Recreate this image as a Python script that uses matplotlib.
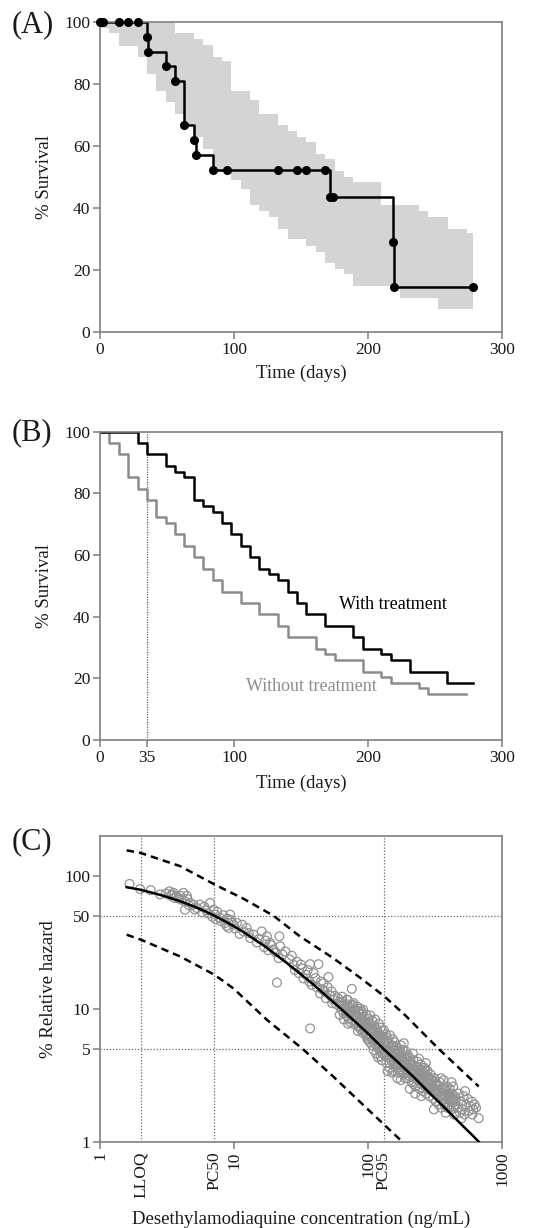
import numpy as np
import matplotlib
matplotlib.use("Agg")
import matplotlib.pyplot as plt

plt.rcParams['font.family'] = ['Liberation Serif', 'DejaVu Serif']

# ---------------- Panel A: Kaplan-Meier with confidence band ----------------
a_step_days = [0, 35, 35.5, 49, 56, 63, 70, 72, 84, 172, 218.5, 219.5, 278]
a_step_surv = [100, 95.2, 90.5, 85.7, 81.0, 66.7, 61.9, 57.1, 52.4, 43.7, 29.1, 14.6, 14.6]

a_dot_days = [0, 2, 14, 21, 28, 35, 35.5, 49, 56, 63, 70, 72, 84, 95, 133, 147,
              154, 168, 172, 173.5, 218.5, 219.5, 278]
a_dot_surv = [100, 100, 100, 100, 100, 95.2, 90.5, 85.7, 81.0, 66.7, 61.9, 57.1,
              52.4, 52.4, 52.4, 52.4, 52.4, 52.4, 43.7, 43.7, 29.1, 14.6, 14.6]

band_days = [0, 7, 14, 28, 35, 42, 49, 56, 63, 70, 77, 84, 91, 98, 105, 112, 119,
             126, 133, 140, 147, 154, 161, 168, 175, 182, 189, 210, 224, 238, 245,
             252, 260, 274, 278]
band_upper = [100, 100, 100, 100, 100, 100, 100, 96.4, 96.4, 94.6, 92.7, 88.9, 87.3,
              77.9, 77.9, 74.9, 70.4, 70.4, 66.7, 64.9, 63.0, 61.2, 57.5, 55.7, 51.9,
              50.1, 48.3, 40.9, 40.9, 39.1, 37.2, 37.2, 33.4, 31.8, 31.8]
band_lower = [98.1, 96.4, 92.3, 88.9, 83.3, 77.9, 74.3, 70.3, 66.7, 63.0, 59.2, 51.7,
              51.7, 49.0, 46.3, 41.0, 39.1, 37.2, 33.4, 29.9, 29.9, 27.7, 25.9, 22.2,
              20.5, 18.6, 14.8, 14.8, 11.1, 11.1, 11.1, 7.3, 7.3, 7.3, 7.3]

# ---------------- Panel B: with / without treatment ----------------
b_with_days = [0, 28, 35, 49, 56, 63, 70, 77, 84, 91, 98, 105, 112, 119, 126, 133,
               140, 147, 154, 168, 189, 196, 210, 217, 231, 259, 278]
b_with_surv = [100, 96.3, 92.6, 88.9, 87.0, 85.2, 77.8, 75.9, 74.1, 70.4, 66.7, 63.0,
               59.3, 55.6, 53.7, 51.9, 48.1, 44.4, 40.7, 37.0, 33.3, 29.6, 27.8, 25.9,
               22.2, 18.5, 18.5]
b_without_days = [0, 7, 14, 21, 28, 35, 42, 49, 56, 63, 70, 77, 84, 91, 105, 119,
                  133, 140, 161, 168, 175, 196, 210, 217, 238, 245, 273]
b_without_surv = [100, 96.3, 92.6, 85.2, 81.5, 77.8, 72.2, 70.4, 66.7, 63.0, 59.3,
                  55.6, 51.9, 48.1, 44.4, 40.7, 37.0, 33.3, 29.6, 27.8, 25.9, 22.2,
                  20.4, 18.5, 16.7, 14.8, 14.8]

# ---------------- Panel C: relative hazard vs concentration ----------------
fit_conc = [1.58, 2.0, 2.5, 3.0, 4.0, 5.0, 6.0, 7.14, 8.5, 10, 12, 14, 17, 20, 25,
            30, 40, 50, 60, 80, 100, 130, 170, 220, 300, 400, 500, 600, 670]
fit_hr = [82, 78.4, 74, 70.4, 64, 58.8, 54.3, 50, 45.6, 41.6, 37.2, 33.6, 29.4, 26,
          21.9, 18.9, 14.9, 12.2, 10.4, 8.0, 6.5, 5.0, 3.9, 3.05, 2.23, 1.68, 1.34,
          1.12, 1.0]
upper_conc = [1.58, 2.02, 3.96, 7.14, 11.8, 19.7, 31, 55, 88, 131, 190, 336, 670]
upper_hr = [155, 148, 118, 86, 67, 50, 35, 24, 17, 12.5, 8.9, 5.0, 2.6]
lower_conc = [1.58, 2.02, 3.96, 7.14, 9.9, 17.6, 32.4, 55, 98, 180]
lower_hr = [36, 33, 24.7, 18, 14.2, 8.24, 5.0, 3.09, 1.78, 1.0]

pts_low_conc = [1.66, 1.99, 2.39, 2.81, 3.10, 3.30, 3.37, 3.45, 3.53, 3.60,
                3.73, 3.85, 3.96, 4.05, 4.19, 4.31, 4.31, 4.45, 4.49, 4.60,
                4.70, 4.98, 5.12, 5.30, 5.58, 5.80, 6.00, 6.20, 6.40, 6.63,
                6.90, 7.03, 7.22, 7.30, 7.50, 7.87, 8.00, 8.30, 8.58, 8.80,
                8.90, 9.10, 9.37, 9.60, 9.92]
pts_low_hr = [86.7, 79.4, 77.9, 72.3, 73.5, 76.3, 70.8, 72.5, 74.3, 68.0,
              70.1, 67.5, 70.8, 66.0, 74.3, 64.1, 55.5, 70.5, 66.8, 60.0,
              62.3, 60.6, 55.5, 57.0, 60.6, 53.0, 58.5, 55.0, 52.0, 62.3,
              49.0, 55.5, 51.0, 47.0, 53.5, 48.1, 45.5, 50.5, 44.1, 42.0,
              47.5, 40.5, 46.6, 44.5, 42.8]

pts_mid_conc = [9.35, 10.2, 10.5, 11.0, 11.5, 11.8, 12.4, 12.9, 13.2, 14.0,
                14.8, 15.4, 16.1, 16.8, 17.2, 17.6, 18.0, 18.6, 19.0, 19.7,
                20.5, 20.9, 21.5, 22.1, 23.0, 24.1, 21.8, 26.0, 27.0, 27.8,
                28.5, 29.5, 30.5, 31.5, 32.1, 33.0, 34.5, 35.5, 36.5, 37.0,
                38.0, 39.2, 40.5, 41.5, 37.0, 42.7, 43.9, 44.5, 45.5, 46.5,
                47.5, 48.5, 50.0, 50.7, 52.1, 53.5, 54.0, 55.2, 56.5, 58.0,
                59.5, 61.0, 62.0, 63.5, 64.0, 65.6, 66.5, 68.0, 69.5]
pts_mid_hr = [51.0, 40.0, 44.1, 36.5, 42.8, 38.1, 40.5, 37.0, 34.0, 36.0,
              31.5, 33.5, 38.1, 29.0, 32.5, 35.0, 27.5, 31.2, 30.0, 27.8,
              26.5, 15.7, 24.0, 29.4, 25.5, 27.0, 35.0, 23.5, 25.0, 21.4,
              19.5, 22.5, 18.5, 21.5, 20.1, 16.9, 18.0, 19.5, 16.0, 21.6,
              15.1, 18.5, 17.0, 14.5, 7.1, 21.6, 13.0, 16.0, 14.0, 15.5,
              13.5, 12.0, 14.5, 17.3, 12.6, 13.5, 11.0, 11.7, 12.5, 10.8,
              12.0, 11.3, 10.4, 9.8, 12.3, 9.3, 10.6, 9.6, 11.7]

pts_high_conc = [70, 71.5, 72, 73.5, 74, 75.7, 76, 77.5, 78, 79.5,
                 80.5, 81, 82.6, 83, 84.5, 85, 86.5, 87, 88, 89.5,
                 90, 91, 92.7, 93, 94.5, 95, 96.5, 97, 98.5, 99,
                 100.5, 101, 102.5, 103, 104, 105.5, 106, 107.5, 108, 109.5,
                 110, 111, 112.5, 113, 114.5, 115, 116.5, 117, 118.5, 119,
                 120.5, 121, 122.5, 123, 124.5, 125, 126.5, 127, 128.5, 129,
                 130, 131.5, 133, 134, 136, 137, 139, 140.5, 142, 143.5,
                 145, 146, 148, 150, 151, 153, 155, 156.5, 158, 160,
                 162, 163, 165, 167, 168.5, 170, 172, 174, 176, 178,
                 180, 182, 184, 186, 188, 190, 192, 194, 196, 198,
                 151.5, 165.5, 140, 185, 175.5,
                 200, 203, 206, 209, 212, 215, 218, 221, 224, 227,
                 230, 233, 236, 239, 242, 245, 248, 251, 254, 257,
                 260, 263, 266, 269, 272, 275, 278, 281, 284, 287,
                 290, 293, 296, 299, 205, 225, 250, 270, 216, 240,
                 302, 307, 312, 317, 322, 327, 332, 337, 342, 347,
                 352, 357, 362, 367, 372, 377, 382, 387, 392, 397,
                 402, 407, 412, 417, 422, 427, 432, 437, 442, 447,
                 310, 350, 380, 420, 440,
                 455, 465, 475, 485, 495, 505, 515, 525, 540, 555,
                 565, 580, 595, 610, 625, 640, 500, 530, 600, 670]
pts_high_hr = [10.8, 9.2, 8.4, 10.1, 7.9, 14.1, 9.6, 8.9, 11.0, 7.6,
               9.9, 8.6, 8.75, 10.4, 7.3, 9.3, 8.1, 10.0, 7.0, 9.0,
               9.5, 6.6, 7.36, 8.7, 7.2, 8.0, 6.3, 9.0, 7.5, 5.9,
               8.4, 6.8, 7.8, 5.6, 8.9, 6.2, 7.1, 5.3, 8.1, 6.5,
               4.9, 7.4, 5.9, 8.3, 6.0, 4.6, 7.0, 5.5, 6.6, 4.3,
               7.7, 5.2, 6.3, 4.8, 7.2, 5.7, 4.1, 6.8, 5.0, 6.1,
               5.6, 6.9, 4.5, 5.2, 6.4, 3.9, 5.0, 6.0, 4.3, 5.5,
               3.6, 6.3, 4.7, 5.3, 4.0, 5.9, 3.4, 4.9, 5.6, 4.2,
               3.8, 5.2, 4.5, 3.3, 5.0, 4.0, 4.7, 3.5, 5.3, 4.3,
               3.7, 4.9, 3.2, 4.4, 3.9, 4.8, 3.5, 4.1, 3.0, 4.5,
               3.3, 3.0, 3.4, 5.5, 2.9,
               3.6, 4.3, 3.1, 3.9, 2.8, 3.5, 4.1, 3.0, 3.7, 2.6,
               3.3, 4.0, 2.9, 3.5, 2.5, 3.2, 3.8, 2.7, 3.3, 2.4,
               3.0, 3.6, 2.6, 3.1, 2.3, 2.8, 3.4, 2.5, 3.0, 2.2,
               2.7, 3.2, 2.4, 2.9, 2.5, 2.3, 2.2, 3.9, 4.6, 4.2,
               2.6, 2.1, 3.0, 2.4, 2.0, 2.7, 2.3, 1.9, 2.8, 2.2,
               1.8, 2.5, 2.1, 2.9, 1.9, 2.4, 2.0, 2.6, 1.8, 2.3,
               1.9, 2.5, 2.1, 1.75, 2.3, 2.0, 2.6, 1.8, 2.2, 1.9,
               1.75, 3.0, 1.65, 2.8, 1.6,
               2.1, 1.8, 2.3, 1.65, 2.0, 1.75, 2.2, 1.6, 1.9, 2.1,
               1.7, 1.85, 2.0, 1.75, 1.9, 1.8, 1.5, 2.4, 1.6, 1.5]

pts_dense_conc = [61.5, 63, 66, 67.5, 69, 71, 73, 74.5, 77, 79,
                  81.5, 83.5, 85.5, 87.5, 89, 91.5, 93.5, 95.5, 97.5, 99.5,
                  64.5, 70.5, 76.5, 84, 92,
                  101.5, 103.5, 105, 107, 109, 111.5, 113.5, 115.5, 117.5, 119.5,
                  122, 124, 126, 128, 131, 135, 138, 141, 144, 147,
                  149, 152, 154, 157, 159, 161, 164, 166, 169, 171,
                  173, 177, 179, 181, 183, 187, 189, 191, 195, 199,
                  201, 207, 211, 214, 219, 222, 228, 232, 237, 243,
                  246, 252, 256, 261, 265, 268, 274, 279, 283, 288,
                  292, 297, 304, 314, 320, 329, 335, 345, 355, 360,
                  370, 375, 385, 395, 405, 415, 425, 435, 445, 452]
pts_dense_hr = [9.0, 11.0, 8.3, 10.2, 8.9, 7.7, 9.4, 10.6, 8.2, 9.7,
                7.9, 8.4, 9.6, 7.4, 8.2, 8.0, 6.9, 7.8, 6.5, 7.3,
                11.3, 11.6, 10.7, 6.8, 9.8,
                5.9, 7.0, 6.0, 6.9, 5.7, 6.6, 5.4, 6.2, 5.1, 6.0,
                5.5, 4.4, 5.9, 4.6, 5.0, 4.7, 5.8, 4.8, 3.9, 5.1,
                4.4, 4.6, 5.2, 3.9, 4.6, 4.9, 4.1, 3.6, 4.2, 3.4,
                4.4, 3.9, 3.3, 4.2, 3.7, 4.0, 3.0, 3.6, 4.3, 3.3,
                3.3, 3.8, 3.4, 3.2, 2.7, 3.4, 3.0, 3.6, 3.2, 2.9,
                3.4, 3.0, 2.8, 3.3, 2.9, 3.5, 2.6, 3.1, 2.7, 3.0,
                2.5, 2.7, 2.9, 2.7, 2.5, 2.4, 2.6, 2.4, 2.3, 2.2,
                2.5, 2.2, 2.3, 2.1, 2.2, 2.0, 2.1, 2.1, 2.0, 1.9]

ref_conc = [2.02, 7.14, 130.6]          # LLOQ, PC50, PC95
ref_hr = [50, 5]
x_ticks_c = [1, 2.02, 7.14, 10, 100, 130.6, 1000]
x_labels_c = ['1', 'LLOQ', 'PC50', '10', '100', 'PC95', '1000']

SPINE = '#7f7f7f'
TXT = '#1a1a1a'
GRAY_LINE = '#8c8c8c'


def style_axes(ax):
    for sp in ax.spines.values():
        sp.set_color(SPINE)
        sp.set_linewidth(1.2)
    ax.tick_params(direction='out', length=5, width=1.1, color=SPINE,
                   labelsize=12.5, labelcolor=TXT, pad=2)


fig = plt.figure(figsize=(5.34, 12.28), dpi=100)

# ---- A ----
axA = fig.add_axes([0.1873, 0.7296, 0.7528, 0.2524])
axA.fill_between(band_days, band_lower, band_upper, step='post',
                 color='#d4d4d4', linewidth=0)
axA.step(a_step_days, a_step_surv, where='post', color='black', lw=1.8)
axA.plot(a_dot_days, a_dot_surv, 'o', color='black', ms=5.5, clip_on=False, zorder=5)
axA.set_xlim(0, 300)
axA.set_ylim(0, 100)
axA.set_xticks([0, 100, 200, 300])
axA.set_yticks([0, 20, 40, 60, 80, 100])
style_axes(axA)
axA.set_xlabel('Time (days)', fontsize=13.5, color=TXT)
axA.set_ylabel('% Survival', fontsize=13.5, color=TXT)
axA.xaxis.set_label_coords(0.5, -0.105)
axA.yaxis.set_label_coords(-0.117, 0.5)

# ---- B ----
axB = fig.add_axes([0.1873, 0.3974, 0.7528, 0.2511])
axB.axvline(35, color='#6a6a6a', lw=0.9, ls=(0, (1, 1)))
axB.step(b_without_days, b_without_surv, where='post', color=GRAY_LINE, lw=1.8)
axB.step(b_with_days, b_with_surv, where='post', color='black', lw=1.8)
axB.text(178, 43.8, 'With treatment', fontsize=13, color='black', va='center')
axB.text(109, 17.5, 'Without treatment', fontsize=13, color=GRAY_LINE, va='center')
axB.set_xlim(0, 300)
axB.set_ylim(0, 100)
axB.set_xticks([0, 35, 100, 200, 300])
axB.set_yticks([0, 20, 40, 60, 80, 100])
style_axes(axB)
axB.set_xlabel('Time (days)', fontsize=13.5, color=TXT)
axB.set_ylabel('% Survival', fontsize=13.5, color=TXT)
axB.xaxis.set_label_coords(0.5, -0.113)
axB.yaxis.set_label_coords(-0.117, 0.5)

# ---- C ----
axC = fig.add_axes([0.1873, 0.0703, 0.7528, 0.2492])
axC.set_xscale('log')
axC.set_yscale('log')
for c in ref_conc:
    axC.axvline(c, color='#6a6a6a', lw=0.9, ls=(0, (1, 1.5)), zorder=1)
for h in ref_hr:
    axC.axhline(h, color='#6a6a6a', lw=0.9, ls=(0, (1, 1.5)), zorder=1)
sc_conc = pts_low_conc + pts_mid_conc + pts_high_conc + pts_dense_conc
sc_hr = pts_low_hr + pts_mid_hr + pts_high_hr + pts_dense_hr
axC.scatter(sc_conc, sc_hr, s=40, facecolors='none', edgecolors='#939393',
            linewidths=0.9, zorder=2)
axC.plot(fit_conc, fit_hr, color='black', lw=1.8, zorder=3)
axC.plot(upper_conc, upper_hr, color='black', lw=1.8, ls=(0, (3, 2)), zorder=3)
axC.plot(lower_conc, lower_hr, color='black', lw=1.8, ls=(0, (3, 2)), zorder=3)
axC.set_xlim(1, 1000)
axC.set_ylim(1, 200)
axC.set_yticks([1, 5, 10, 50, 100])
axC.set_yticklabels(['1', '5', '10', '50', '100'])
axC.set_xticks(x_ticks_c)
axC.set_xticklabels(x_labels_c, rotation=90)
axC.minorticks_off()
style_axes(axC)
for i, t in enumerate(axC.xaxis.get_major_ticks()):
    if x_labels_c[i] in ('LLOQ', 'PC50', 'PC95'):
        t.tick1line.set_visible(False)
axC.set_xlabel('Desethylamodiaquine concentration (ng/mL)', fontsize=13.5, color=TXT)
axC.set_ylabel('% Relative hazard', fontsize=13.5, color=TXT)
axC.xaxis.set_label_coords(0.5, -0.226)
axC.yaxis.set_label_coords(-0.107, 0.5)

fig.text(12 / 534, 0.9796, '(A)', fontsize=22, color=TXT, va='center')
fig.text(12 / 534, 0.6478, '(B)', fontsize=22, color=TXT, va='center')
fig.text(12 / 534, 0.3147, '(C)', fontsize=22, color=TXT, va='center')

fig.savefig('out.png', dpi=100)
